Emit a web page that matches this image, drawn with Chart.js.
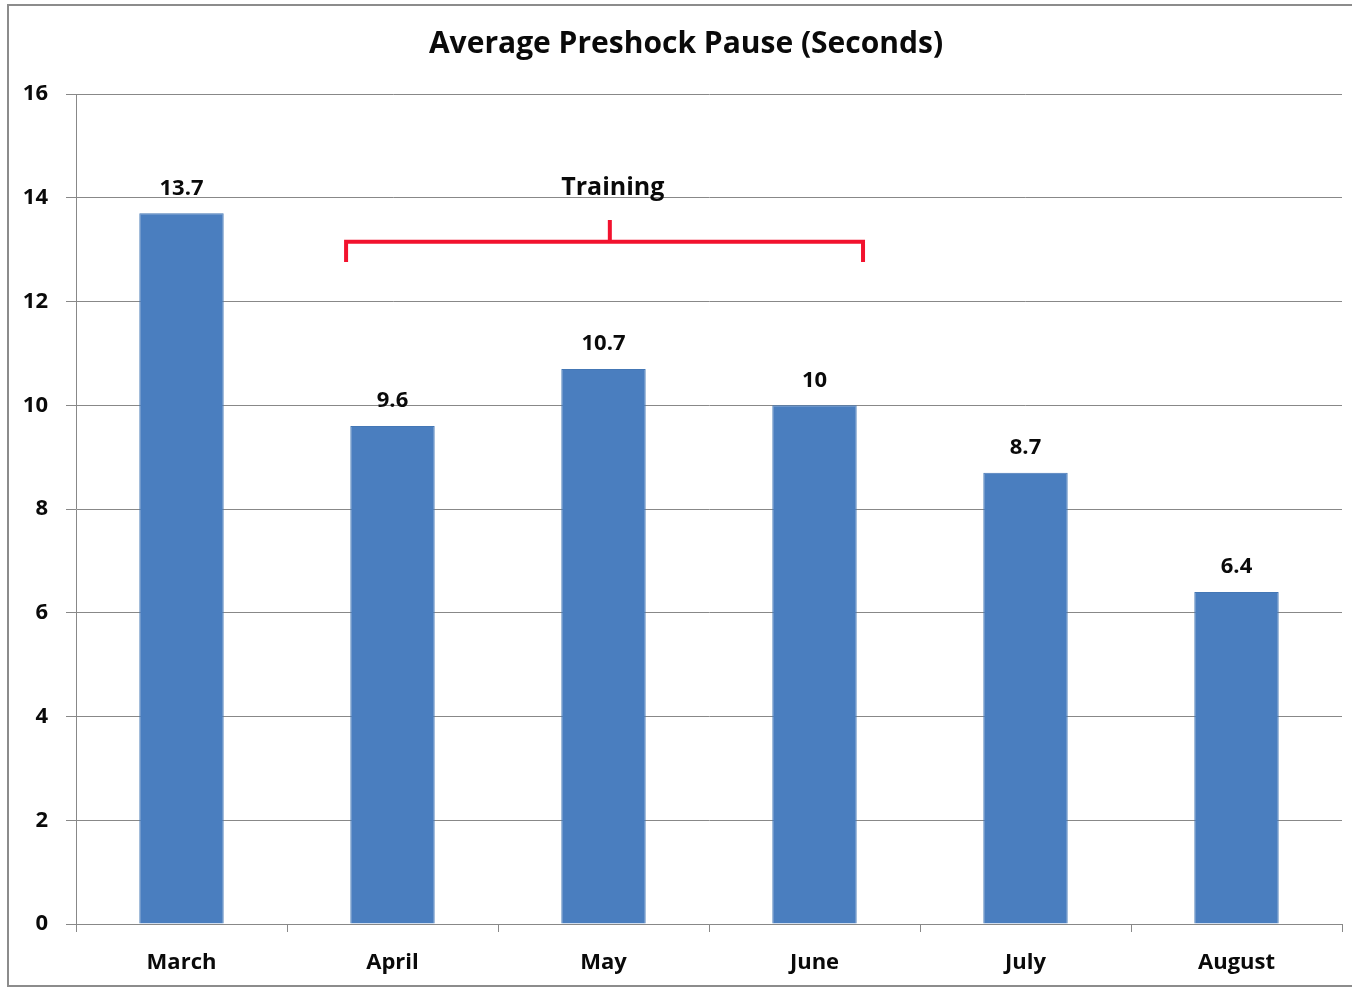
<!DOCTYPE html>
<html>
<head>
<meta charset="utf-8">
<script src="https://cdn.jsdelivr.net/npm/chart.js@4/dist/chart.umd.min.js"></script>
<style>
  html, body { margin: 0; padding: 0; background: #fff; overflow: hidden; }
  #frame { position: absolute; left: 7px; top: 4px; width: 1370px; height: 979px; border: 2px solid #8c8c8c; }
  #wrap { position: absolute; left: 0; top: 0; width: 1352px; height: 987px; }
</style>
</head>
<body>
<div id="frame"></div>
<div id="wrap"><canvas id="chart" width="1352" height="987"></canvas></div>
<script>
const months = ['March', 'April', 'May', 'June', 'July', 'August'];
const pauseSeconds = [13.7, 9.6, 10.7, 10, 8.7, 6.4];
const yTicks = [0, 2, 4, 6, 8, 10, 12, 14, 16];
const chartTitle = 'Average Preshock Pause (Seconds)';

// bracket over the training months, in data units (x = category index)
const bracketX = [0.78, 2.03, 3.23];
const bracketY = [12.76, 13.15, 13.57];
const bracketLabel = 'Training';
const bracketLabelY = 14.2;

const FONT = '"Open Sans", Lato, sans-serif';

// title sits a little right of the canvas centre, like the original
const titlePlugin = {
  id: 'titlePlugin',
  afterDraw(chart) {
    const ctx = chart.ctx;
    ctx.save();
    ctx.font = 'bold 30px ' + FONT;
    ctx.fillStyle = '#0a0a0a';
    ctx.textAlign = 'center';
    ctx.textBaseline = 'middle';
    ctx.fillText(chartTitle, 686, 44);
    ctx.restore();
  }
};

const valueLabels = {
  id: 'valueLabels',
  afterDatasetsDraw(chart) {
    const ctx = chart.ctx;
    const meta = chart.getDatasetMeta(0);
    ctx.save();
    ctx.font = 'bold 22px ' + FONT;
    ctx.fillStyle = '#0a0a0a';
    ctx.textAlign = 'center';
    ctx.textBaseline = 'middle';
    meta.data.forEach((bar, i) => {
      ctx.fillText(String(pauseSeconds[i]), bar.x, bar.y - 25);
    });
    ctx.restore();
  }
};

const bracket = {
  id: 'bracket',
  afterDatasetsDraw(chart) {
    const ctx = chart.ctx;
    const xs = chart.scales.x, ys = chart.scales.y;
    const x0 = xs.getPixelForValue(bracketX[0]);
    const xm = xs.getPixelForValue(bracketX[1]);
    const x1 = xs.getPixelForValue(bracketX[2]);
    const yLow = ys.getPixelForValue(bracketY[0]);
    const yMid = ys.getPixelForValue(bracketY[1]);
    const yTop = ys.getPixelForValue(bracketY[2]);
    ctx.save();
    ctx.strokeStyle = '#f2122e';
    ctx.lineWidth = 4;
    ctx.lineCap = 'butt';
    ctx.beginPath();
    ctx.moveTo(x0, yLow);
    ctx.lineTo(x0, yMid);
    ctx.lineTo(x1, yMid);
    ctx.lineTo(x1, yLow);
    ctx.moveTo(xm, yMid);
    ctx.lineTo(xm, yTop);
    ctx.stroke();
    ctx.font = 'bold 25px ' + FONT;
    ctx.fillStyle = '#0a0a0a';
    ctx.textAlign = 'center';
    ctx.textBaseline = 'middle';
    ctx.fillText(bracketLabel, xm + 3, ys.getPixelForValue(bracketLabelY));
    ctx.restore();
  }
};

new Chart(document.getElementById('chart').getContext('2d'), {
  type: 'bar',
  data: {
    labels: months,
    datasets: [{
      data: pauseSeconds,
      backgroundColor: '#4a7ebf',
      borderColor: '#4477b5',
      borderWidth: 1,
      barPercentage: 0.4,
      categoryPercentage: 1
    }]
  },
  options: {
    responsive: false,
    animation: false,
    layout: { padding: { left: 0, right: 10, top: 94, bottom: 0 } },
    plugins: {
      legend: { display: false },
      tooltip: { enabled: false },
      title: { display: false }
    },
    scales: {
      x: {
        grid: { offset: true, drawOnChartArea: false, drawTicks: true, tickLength: 8, color: '#888' },
        border: { color: '#888', width: 1 },
        ticks: { color: '#0a0a0a', font: { family: FONT, size: 22, weight: 'bold' }, padding: 18 },
        afterFit(scale) { scale.height = 63; }
      },
      y: {
        min: 0,
        max: 16,
        afterBuildTicks(scale) { scale.ticks = yTicks.map(v => ({ value: v })); },
        grid: { color: '#888', tickLength: 10 },
        border: { color: '#888', width: 1 },
        ticks: { color: '#0a0a0a', font: { family: FONT, size: 22, weight: 'bold' }, padding: 18 },
        afterFit(scale) { scale.width = 76; }
      }
    }
  },
  plugins: [titlePlugin, valueLabels, bracket]
});
</script>
</body>
</html>
